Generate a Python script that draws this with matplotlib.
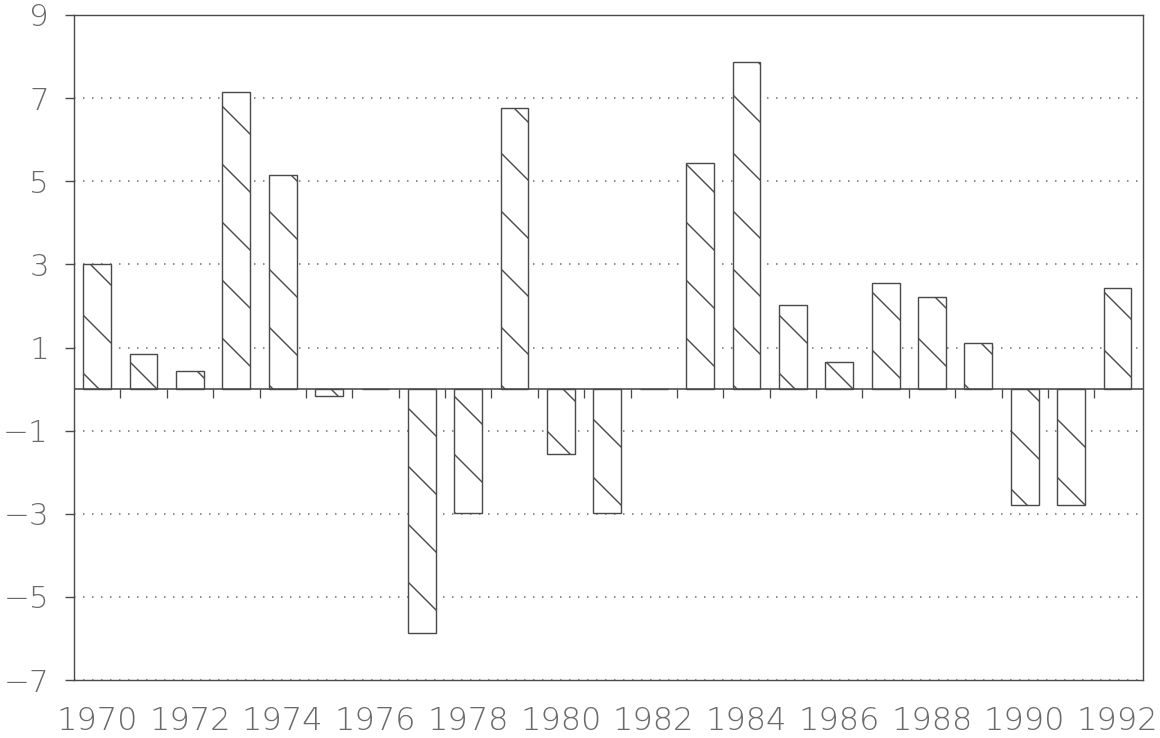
import numpy as np
import matplotlib
matplotlib.use("Agg")
import matplotlib.pyplot as plt

years = list(range(1970, 1993))
values = [3.0, 0.85, 0.43, 7.15, 5.15, -0.17, 0.0, -5.87, -2.98, 6.76,
          -1.57, -2.98, 0.0, 5.44, 7.87, 2.03, 0.65, 2.55, 2.22, 1.12,
          -2.8, -2.8, 2.42]
yticks = list(range(-7, 10, 2))
xlabel_years = years[::2]

DPI = 348
def pt(px):
    return px * 72.0 / DPI

plt.rcParams['hatch.linewidth'] = pt(1.4)
plt.rcParams['font.family'] = ['DejaVu Sans']
plt.rcParams['font.weight'] = 'light'

ink = '#4a4a4a'
txt = '#6a6a6a'

fig = plt.figure(figsize=(1160 / DPI, 738 / DPI), dpi=DPI)
ax = fig.add_axes([74 / 1160, 1 - 680 / 738, (1143 - 74) / 1160, (680 - 15) / 738])

x = np.arange(len(years))
ax.bar(x, values, width=0.6, facecolor='white', edgecolor=ink,
       linewidth=pt(1.4), hatch='\\\\', zorder=3)

ax.set_xlim(-0.5, 22.55)
ax.set_ylim(-7, 9)
ax.set_yticks(yticks)
ax.set_yticklabels([f"{v}".replace('-', '\u2212') for v in yticks])
ax.set_xticks(x[::2])
ax.set_xticklabels([str(y) for y in xlabel_years])

ax.grid(axis='y', color='#6a6a6a', linewidth=pt(1.5), linestyle=(0, (1, 5)), zorder=1)
ax.set_axisbelow(True)

for s in ax.spines.values():
    s.set_color(ink)
    s.set_linewidth(pt(1.4))

ax.tick_params(axis='y', direction='out', length=pt(9), width=pt(1.4), color=ink,
               pad=pt(16), labelsize=pt(31), labelcolor=txt)
ax.tick_params(axis='x', length=0, pad=pt(26), labelsize=pt(32), labelcolor=txt)

# zero line with small downward ticks between bars
ax.axhline(0, color=ink, linewidth=pt(1.6), zorder=4)
ax.plot(x[:-1] + 0.5, np.zeros(len(x) - 1), linestyle='none', marker=3,
        markersize=pt(9), markeredgewidth=pt(1.3), color=ink, zorder=4)

fig.savefig('out.png', dpi=DPI, facecolor='white')
